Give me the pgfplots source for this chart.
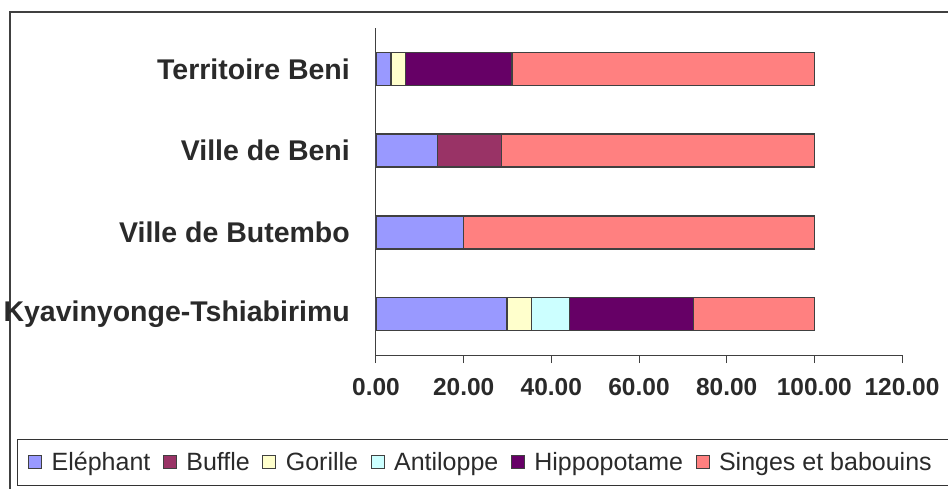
\documentclass[border=0pt]{standalone}
\usepackage{fontspec}
\setmainfont{Liberation Sans}
\usepackage{pgfplots}
\pgfplotsset{compat=1.18}
\definecolor{cEle}{HTML}{9999FF}
\definecolor{cBuf}{HTML}{993366}
\definecolor{cGor}{HTML}{FFFFCC}
\definecolor{cAnt}{HTML}{CCFFFF}
\definecolor{cHip}{HTML}{660066}
\definecolor{cSin}{HTML}{FF8080}
\definecolor{txt}{HTML}{2A2A2A}
\pgfplotsset{
  sb/.style={draw=black!75, line width=1.3pt, fill=#1},
}
\begin{document}
\begin{tikzpicture}[x=1pt,y=1pt]
% chart area frame and legend box
\draw[black!75, line width=1.2pt] (10,-12) rectangle (980,-520);
\draw[black!80, line width=1pt] (17,-439) rectangle (980,-485);
\begin{axis}[
  at={(376pt,-355pt)}, anchor=south west,
  scale only axis, width=526pt, height=327pt,
  xbar stacked, bar width=33pt,
  xmin=0, xmax=120, ymin=-0.5, ymax=3.5,
  xtick={0,20,40,60,80,100,120},
  ytick={0,1,2,3},
  yticklabels={Kyavinyonge-Tshiabirimu, Ville de Butembo, Ville de Beni, Territoire Beni},
  axis x line*=bottom, axis y line*=left,
  axis line style={black!75, line width=1pt, -},
  tick align=outside, major tick length=8pt,
  xtick style={black!75, line width=1pt},
  ytick style={draw=none},
  xticklabel style={font=\bfseries\fontsize{24.5}{26}\selectfont, text=txt, inner sep=0pt, yshift=-15pt},
  yticklabel style={font=\bfseries\fontsize{28.5}{30}\selectfont, text=txt, inner sep=0pt, xshift=-18pt},
  /pgf/number format/.cd, fixed, zerofill, precision=2, assume math mode=true, /pgfplots/.cd,
  legend columns=6,
  legend style={draw=none, fill=none, font=\fontsize{25}{28}\selectfont, text=txt,
    at={(rel axis cs:-0.6768,-0.3272)}, anchor=west, inner xsep=8pt,
    /tikz/every odd column/.append style={column sep=7.5pt},
    /tikz/every even column/.append style={column sep=10.5pt}},
  legend cell align=left,
  legend image code/.code={\draw[#1, line width=1pt] (0pt,-6.5pt) rectangle (13pt,6.5pt);},
]
\addplot[sb=cEle] coordinates {(29.7,0) (20.0,1) (14.0,2) (3.4,3)};
\addplot[sb=cBuf] coordinates {(0.3,0) (0,1) (14.7,2) (0,3)};
\addplot[sb=cGor] coordinates {(5.5,0) (0,1) (0,2) (3.3,3)};
\addplot[sb=cAnt] coordinates {(8.6,0) (0,1) (0,2) (0,3)};
\addplot[sb=cHip] coordinates {(28.3,0) (0,1) (0,2) (24.3,3)};
\addplot[sb=cSin] coordinates {(27.6,0) (80.0,1) (71.3,2) (69.0,3)};
\legend{Eléphant, Buffle, Gorille, Antiloppe, Hippopotame, Singes et babouins}
\end{axis}
\pgfresetboundingbox
\path[use as bounding box] (0,0) rectangle (948,-489);
\end{tikzpicture}
\end{document}
